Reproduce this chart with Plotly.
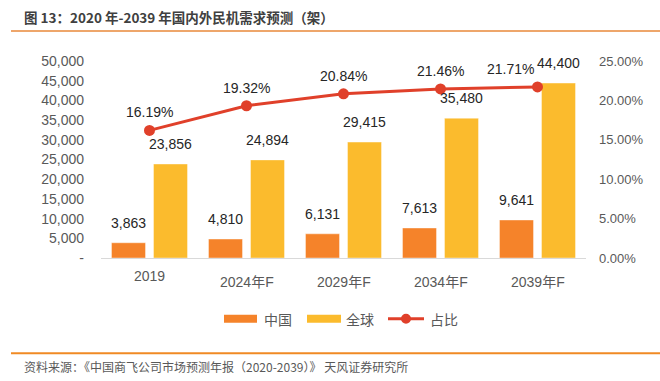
import plotly.graph_objects as go

categories = ["2019", "2024年F", "2029年F", "2034年F", "2039年F"]
china = [3863, 4810, 6131, 7613, 9641]
world = [23856, 24894, 29415, 35480, 44400]
share = [16.19, 19.32, 20.84, 21.46, 21.71]

left_ticks = [0, 5000, 10000, 15000, 20000, 25000, 30000, 35000, 40000, 45000, 50000]
left_text = ["-", "5,000", "10,000", "15,000", "20,000", "25,000", "30,000", "35,000", "40,000", "45,000", "50,000"]
right_ticks = [0, 5, 10, 15, 20, 25]
right_text = ["0.00%", "5.00%", "10.00%", "15.00%", "20.00%", "25.00%"]

C_CN = "#F5832A"
C_WD = "#FBBB2D"
C_LN = "#E0402A"
FONT = "Liberation Sans, Arial, Noto Sans CJK SC"
CJK = "Noto Sans CJK SC, Liberation Sans"

W, H = 660, 381
ml, mr, mt, mb = 101, 74, 61, 122.5
pw, ph = W - ml - mr, H - mt - mb


def px(x):
    return (x - ml) / pw


def py(y):
    return (H - mb - y) / ph


pos = list(range(len(categories)))

fig = go.Figure()
fig.add_trace(go.Bar(x=pos, y=china, name="中国",
                     marker=dict(color=C_CN, line=dict(color="rgba(255,255,255,0.5)", width=0.8))))
fig.add_trace(go.Bar(x=pos, y=world, name="全球",
                     marker=dict(color=C_WD, line=dict(color="rgba(255,255,255,0.5)", width=0.8))))
fig.add_trace(go.Scatter(x=pos, y=share, name="占比", yaxis="y2", mode="lines+markers",
                         line=dict(color=C_LN, width=3), marker=dict(color=C_LN, size=11)))

ann = []
for p, v in zip(pos, china):
    ann.append(dict(x=p, y=v, xref="x", yref="y", text=f"{v:,}", showarrow=False, xshift=-21, yshift=10,
                    yanchor="bottom", font=dict(size=14, color="#262626", family=FONT)))
for p, v in zip(pos, world):
    ann.append(dict(x=p, y=v, xref="x", yref="y", text=f"{v:,}", showarrow=False, xshift=21, yshift=10,
                    yanchor="bottom", font=dict(size=14, color="#262626", family=FONT)))
for p, v in zip(pos, share):
    ann.append(dict(x=p, y=v, xref="x", yref="y2", text=f"{v:.2f}%", showarrow=False,
                    xshift=-27 if p == pos[-1] else 0, yshift=8,
                    yanchor="bottom", font=dict(size=14, color="#262626", family=FONT)))
for p, c in zip(pos, categories):
    ann.append(dict(x=p, y=py(277 if p == 0 else 283), xref="x", yref="paper", text=c, showarrow=False,
                    yanchor="middle", font=dict(size=14, color="#595959", family=FONT)))

# title and source
ann.append(dict(x=px(22), y=py(17), xref="paper", yref="paper", xanchor="left", yanchor="middle",
                text="<b>图 13：2020 年-2039 年国内外民机需求预测（架）</b>", showarrow=False,
                font=dict(size=13.5, color="#404040", family=CJK)))
ann.append(dict(x=px(22), y=py(367), xref="paper", yref="paper", xanchor="left", yanchor="middle",
                text="资料来源：《中国商飞公司市场预测年报（2020-2039）》 天风证券研究所", showarrow=False,
                font=dict(size=12, color="#595959", family=CJK)))

shapes = [
    dict(type="line", xref="paper", yref="paper", x0=px(11), x1=px(660), y0=py(31), y1=py(31),
         line=dict(color="#E8893A", width=1.5)),
    dict(type="line", xref="paper", yref="paper", x0=px(11), x1=px(660), y0=py(354), y1=py(354),
         line=dict(color="#F08A24", width=2)),
]

# custom legend (wide swatches as in the reference)
legend_items = [("中国", "bar", C_CN, 224, 257, 262), ("全球", "bar", C_WD, 307, 341, 344),
                ("占比", "line", C_LN, 388, 424, 428)]
for name, kind, col, x0, x1, tx in legend_items:
    if kind == "bar":
        shapes.append(dict(type="rect", xref="paper", yref="paper", x0=px(x0), x1=px(x1), y0=py(323.5),
                           y1=py(315.5), fillcolor=col, line=dict(width=0)))
    else:
        shapes.append(dict(type="line", xref="paper", yref="paper", x0=px(x0), x1=px(x1), y0=py(319.5),
                           y1=py(319.5), line=dict(color=col, width=3)))
        xc = (x0 + x1) / 2
        shapes.append(dict(type="circle", xref="paper", yref="paper", x0=px(xc - 5), x1=px(xc + 5),
                           y0=py(324.5), y1=py(314.5), fillcolor=col, line=dict(width=0)))
    ann.append(dict(x=px(tx), y=py(320), xref="paper", yref="paper", xanchor="left", yanchor="middle",
                    text=name, showarrow=False, font=dict(size=14, color="#595959", family=CJK)))

fig.update_layout(
    width=W, height=H,
    margin=dict(l=ml, r=mr, t=mt, b=mb),
    paper_bgcolor="white", plot_bgcolor="white",
    barmode="group", bargap=0.134, bargroupgap=0.19,
    font=dict(family=FONT, color="#595959", size=13),
    xaxis=dict(type="linear", range=[-0.5, len(categories) - 0.5], showticklabels=False, showline=True,
               linecolor="#D9D9D9", linewidth=1, showgrid=False, ticks="", zeroline=False),
    yaxis=dict(range=[0, 50000], tickvals=left_ticks, ticktext=left_text, showgrid=False, zeroline=False,
               showline=False, ticks="", ticklabelstandoff=16, tickfont=dict(size=14, color="#595959")),
    yaxis2=dict(range=[0, 25], overlaying="y", side="right", tickvals=right_ticks, ticktext=right_text,
                showgrid=False, zeroline=False, showline=False, ticks="", ticklabelstandoff=12,
                tickfont=dict(size=13, color="#595959")),
    showlegend=False,
    annotations=ann,
    shapes=shapes,
)

fig.write_html("out.html", config={"displayModeBar": False},
               post_script="document.body.style.margin='0';")
